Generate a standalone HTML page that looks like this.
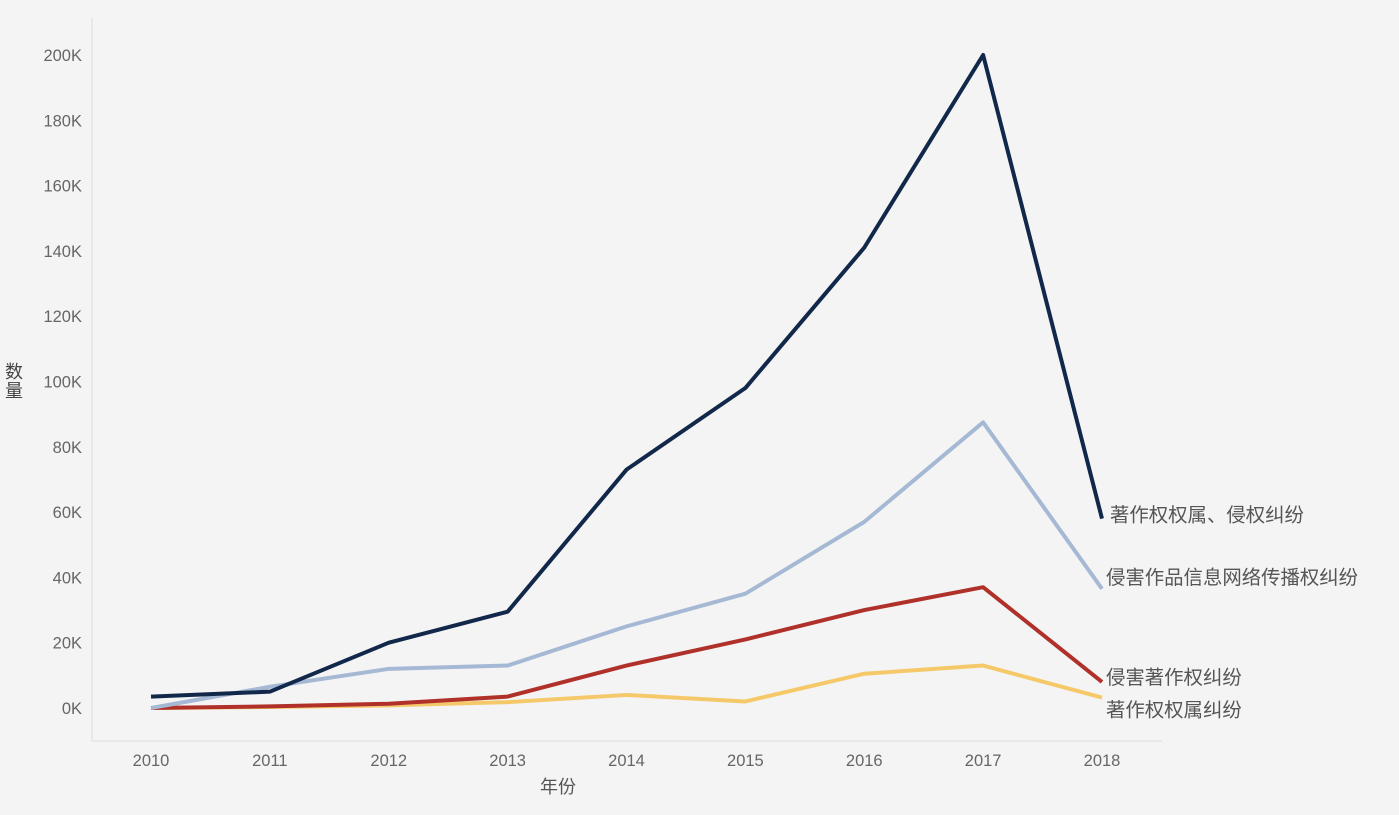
<!DOCTYPE html>
<html><head><meta charset="utf-8"><style>
body{margin:0;background:#f4f4f4;}
svg{display:block;font-family:"Liberation Sans","Noto Sans CJK SC",sans-serif;}
</style></head><body>
<svg id="chart" width="1399" height="815">
<rect width="1399" height="815" fill="#f4f4f4"/>
<line x1="92" y1="18" x2="92" y2="741" stroke="#dcdcdc"/>
<line x1="92" y1="741" x2="1162" y2="741" stroke="#dcdcdc"/>
<text x="14" y="378" font-size="18" fill="#444" text-anchor="middle"><tspan x="14" dy="0">数</tspan><tspan x="14" dy="19">量</tspan></text>
<text x="558" y="793" font-size="18" fill="#555" text-anchor="middle">年份</text>
<g id="axes"></g><g id="series"></g>
</svg>
<script>
const years=["2010","2011","2012","2013","2014","2015","2016","2017","2018"];
const yTicks=[0,20,40,60,80,100,120,140,160,180,200];
const seriesNames=["著作权权属、侵权纠纷","侵害作品信息网络传播权纠纷","侵害著作权纠纷","著作权权属纠纷"];
const seriesColors=["#12284a","#a6b9d4","#b0312a","#f5c96a"];
const s1=[3.5,5,20,29.5,73,98,141,200,58];
const s2=[0,6.5,12,13,25,35,57,87.5,36.5];
const s3=[0,0.5,1.3,3.5,13,21,30,37,8];
const s4=[0,0.3,0.8,1.8,4,2,10.5,13,3.2];
const allSeries=[s1,s2,s3,s4];
const labelDy=[-4,-12,-5,12];
const labelDx=[8,4,4,4];
const NS="http://www.w3.org/2000/svg";
const xS=i=>151+i*(1102-151)/8;
const yS=v=>708-v*(708-55)/200;
const ax=document.getElementById('axes'),sg=document.getElementById('series');
yTicks.forEach(t=>{const e=document.createElementNS(NS,'text');
e.setAttribute('x',82);e.setAttribute('y',yS(t)+6);e.setAttribute('text-anchor','end');
e.setAttribute('font-size','16.5');e.setAttribute('fill','#666');e.textContent=t+'K';


ax.appendChild(e);});
years.forEach((y,i)=>{const e=document.createElementNS(NS,'text');
e.setAttribute('x',xS(i));e.setAttribute('y',766);e.setAttribute('text-anchor','middle');
e.setAttribute('font-size','16.5');e.setAttribute('fill','#666');e.textContent=y;


ax.appendChild(e);});
allSeries.slice().reverse().forEach((d,ri)=>{const k=3-ri;
const p=document.createElementNS(NS,'polyline');
p.setAttribute('points',d.map((v,i)=>xS(i)+','+yS(v)).join(' '));
p.setAttribute('fill','none');p.setAttribute('stroke',seriesColors[k]);p.setAttribute('stroke-width','4');
p.setAttribute('stroke-linejoin','round');


sg.appendChild(p);
const t=document.createElementNS(NS,'text');
t.setAttribute('x',xS(8)+labelDx[k]);t.setAttribute('y',yS(d[8])+7+labelDy[k]);
t.setAttribute('font-size','19.4');t.setAttribute('fill','#555');t.textContent=seriesNames[k];


sg.appendChild(t);});
</script>
</body></html>
